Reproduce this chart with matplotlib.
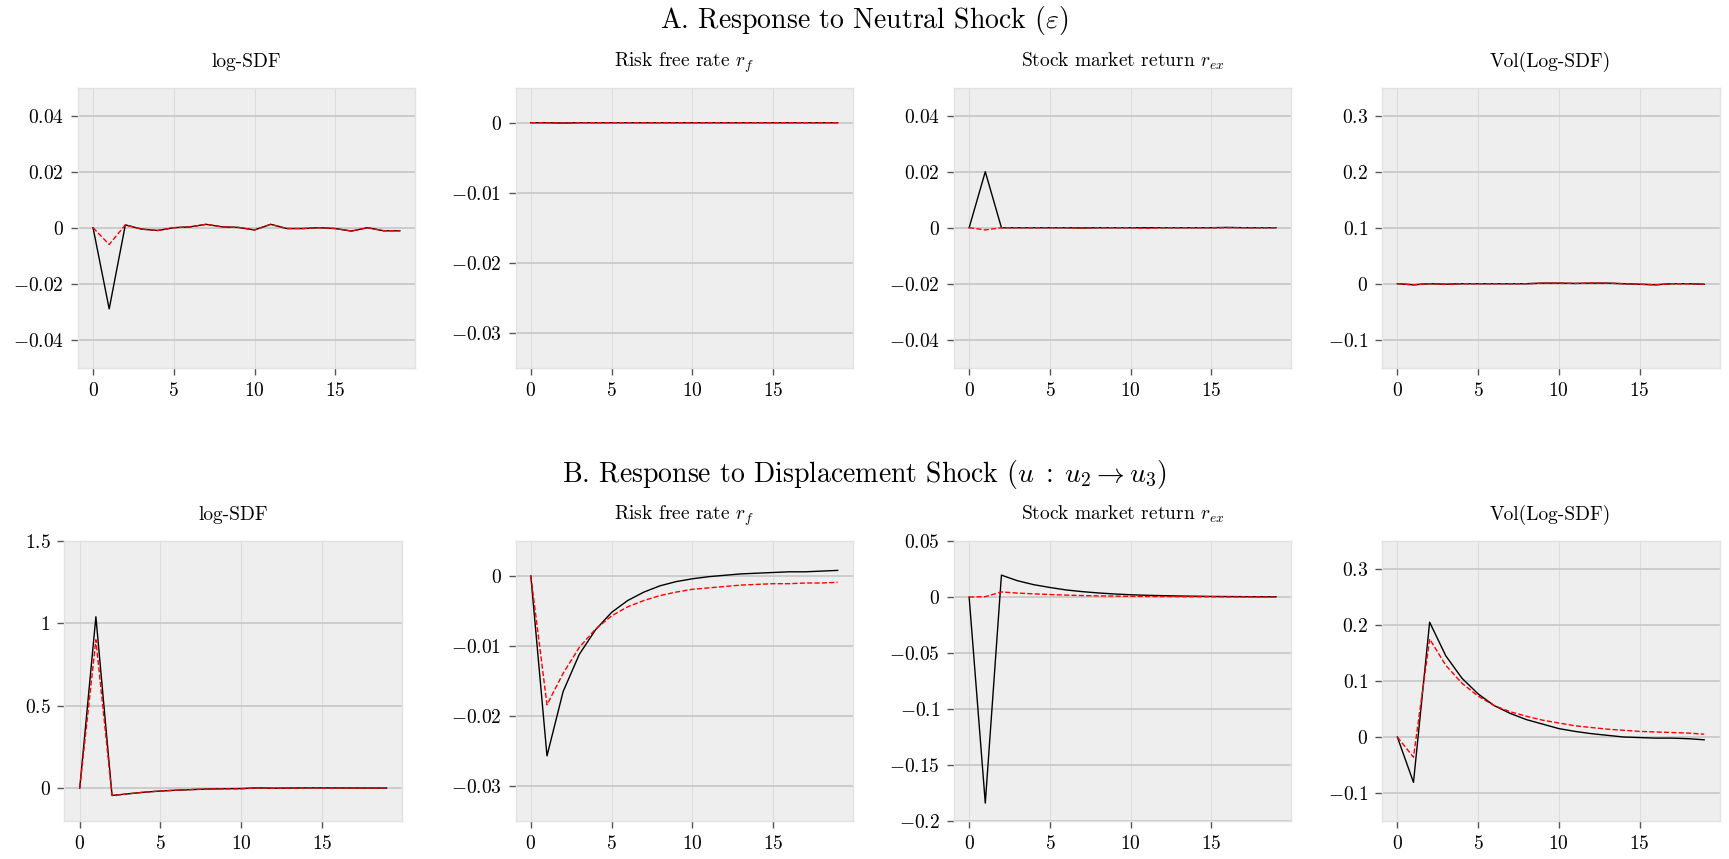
import matplotlib
matplotlib.use('Agg')
import matplotlib.pyplot as plt
from matplotlib.ticker import FuncFormatter

plt.rcParams['font.family'] = 'serif'
plt.rcParams['font.serif'] = ['cmr10']
plt.rcParams['mathtext.fontset'] = 'cm'
plt.rcParams['axes.unicode_minus'] = False

horizon = list(range(20))

# panel A: neutral shock
a_sdf_black = [0, -0.029, 0.001, -0.0005, -0.001, 0, 0.0003, 0.0012, 0.0003, 0.0001,
               -0.0008, 0.0012, -0.0003, -0.0003, 0, -0.0003, -0.0012, 0, -0.0011, -0.0011]
a_sdf_red = [0, -0.006, 0.001, -0.0005, -0.001, 0, 0.0003, 0.0012, 0.0003, 0.0001,
             -0.0008, 0.0012, -0.0003, -0.0003, 0, -0.0003, -0.0012, 0, -0.0011, -0.0011]
a_rf_black = [0, 0, -0.00005, 0, 0, 0, 0, 0, 0, 0, 0, 0, 0, 0, 0, 0, 0, 0, 0, 0]
a_rf_red = [0, 0, -0.00005, 0, 0, 0, 0, 0, 0, 0, 0, 0, 0, 0, 0, 0, 0, 0, 0, 0]
a_rex_black = [0, 0.02, 0, 0, 0, 0, 0, -0.0001, 0, 0, 0, 0, 0, 0, 0, 0, 0.0001, 0, 0, 0]
a_rex_red = [0, -0.0008, 0, 0, 0, 0, 0, -0.0001, 0, 0, 0, -0.0002, 0, 0, 0, 0, 0, 0, 0, 0]
a_vol_black = [0, -0.002, 0, -0.001, 0, 0, 0, 0, 0, 0.001, 0.001, 0.0005, 0.001, 0.001,
               0, -0.001, -0.002, 0, 0, -0.001]
a_vol_red = [0, -0.002, 0, -0.001, 0, 0, 0, 0, 0, 0.001, 0.001, 0.0005, 0.001, 0.001,
             0, -0.001, -0.002, 0, 0, -0.001]

# panel B: displacement shock
b_sdf_black = [0, 1.04, -0.045, -0.035, -0.025, -0.018, -0.013, -0.009, -0.006, -0.004,
               -0.003, 0.001, -0.001, 0, 0.001, 0.001, 0.0005, 0.0005, 0, 0]
b_sdf_red = [0, 0.9, -0.045, -0.035, -0.025, -0.018, -0.013, -0.009, -0.006, -0.005,
             -0.005, 0.001, -0.001, 0, 0.001, 0.001, 0.0005, 0.0005, 0, 0]
b_rf_black = [0, -0.0257, -0.0165, -0.0112, -0.0077, -0.0052, -0.0035, -0.0023, -0.0014, -0.0008,
              -0.0004, -0.0001, 0.0001, 0.0003, 0.0004, 0.0005, 0.0006, 0.0006, 0.0007, 0.0008]
b_rf_red = [0, -0.0184, -0.0139, -0.0102, -0.0076, -0.0057, -0.0044, -0.0035, -0.0028, -0.0023,
            -0.0019, -0.0017, -0.0015, -0.0013, -0.0012, -0.0011, -0.0011, -0.0010, -0.0010, -0.0009]
b_rex_black = [0, -0.184, 0.0195, 0.0145, 0.011, 0.0085, 0.0063, 0.0048, 0.0036, 0.0027,
               0.002, 0.0015, 0.0012, 0.0009, 0.0007, 0.0005, 0.0004, 0.0003, 0.0002, 0.0002]
b_rex_red = [0, 0.0003, 0.0045, 0.0035, 0.0028, 0.0022, 0.0017, 0.0013, 0.001, 0.0008,
             0.0006, 0.0005, 0.0004, 0.0003, 0.0002, 0.0002, 0.0001, 0.0001, 0.0001, 0]
b_vol_black = [0, -0.081, 0.205, 0.145, 0.105, 0.077, 0.056, 0.042, 0.031, 0.023,
               0.015, 0.010, 0.006, 0.003, 0.0, -0.001, -0.002, -0.002, -0.003, -0.005]
b_vol_red = [0, -0.036, 0.175, 0.128, 0.096, 0.073, 0.056, 0.045, 0.037, 0.030,
             0.025, 0.020, 0.017, 0.014, 0.012, 0.010, 0.009, 0.008, 0.007, 0.005]

titles = ['log-SDF', 'Risk free rate $r_f$', 'Stock market return $r_{ex}$', 'Vol(Log-SDF)']
row_titles = [r'A. Response to Neutral Shock ($\varepsilon$)',
              r'B. Response to Displacement Shock ($u\;:\;u_2 \rightarrow u_3$)']

a_lines = [(a_sdf_black, a_sdf_red), (a_rf_black, a_rf_red),
           (a_rex_black, a_rex_red), (a_vol_black, a_vol_red)]
b_lines = [(b_sdf_black, b_sdf_red), (b_rf_black, b_rf_red),
           (b_rex_black, b_rex_red), (b_vol_black, b_vol_red)]

a_ylim = [(-0.05, 0.05), (-0.035, 0.005), (-0.05, 0.05), (-0.15, 0.35)]
a_yticks = [[-0.04, -0.02, 0, 0.02, 0.04], [-0.03, -0.02, -0.01, 0],
            [-0.04, -0.02, 0, 0.02, 0.04], [-0.1, 0, 0.1, 0.2, 0.3]]
b_ylim = [(-0.2, 1.5), (-0.035, 0.005), (-0.2, 0.05), (-0.15, 0.35)]
b_yticks = [[0, 0.5, 1, 1.5], [-0.03, -0.02, -0.01, 0],
            [-0.2, -0.15, -0.1, -0.05, 0, 0.05], [-0.1, 0, 0.1, 0.2, 0.3]]

W, H = 1729, 859
fig = plt.figure(figsize=(W / 100, H / 100), dpi=100)

a_left = [77.7, 515.5, 953.8, 1382]
b_left = [64.4, 515.5, 953.8, 1382]
ax_w = 337.5
ax_h = 280


def fmt(v, pos):
    return '$%g$' % round(v, 6)


def draw_panel(left, top, lines, ylim, yticks, title):
    ax = fig.add_axes([left / W, 1 - (top + ax_h) / H, ax_w / W, ax_h / H])
    ax.set_facecolor('#eeeeee')
    for s in ax.spines.values():
        s.set_color('#e2e2e2')
        s.set_linewidth(1)
    ax.grid(axis='y', color='#c9c9c9', linewidth=1.3)
    ax.grid(axis='x', color='#dcdcdc', linewidth=0.8)
    ax.set_axisbelow(True)
    black, red = lines
    ax.plot(horizon, black, color='black', linewidth=1)
    ax.plot(horizon, red, color='red', linestyle='--', linewidth=1)
    ax.set_ylim(ylim)
    ax.set_yticks(yticks)
    ax.set_xticks([0, 5, 10, 15])
    ax.yaxis.set_major_formatter(FuncFormatter(fmt))
    ax.xaxis.set_major_formatter(FuncFormatter(fmt))
    ax.tick_params(labelsize=14, length=5, width=1, color='#555555', pad=5)
    ax.set_title(title, fontsize=14, pad=15)
    return ax


for i in range(4):
    draw_panel(a_left[i], 87.7, a_lines[i], a_ylim[i], a_yticks[i], titles[i])
    draw_panel(b_left[i], 541, b_lines[i], b_ylim[i], b_yticks[i], titles[i])

fig.text(0.5, 1 - 28 / H, row_titles[0], ha='center', va='baseline', fontsize=20)
fig.text(0.5, 1 - 481.7 / H, row_titles[1], ha='center', va='baseline', fontsize=20)

fig.savefig('out.png', dpi=100)
